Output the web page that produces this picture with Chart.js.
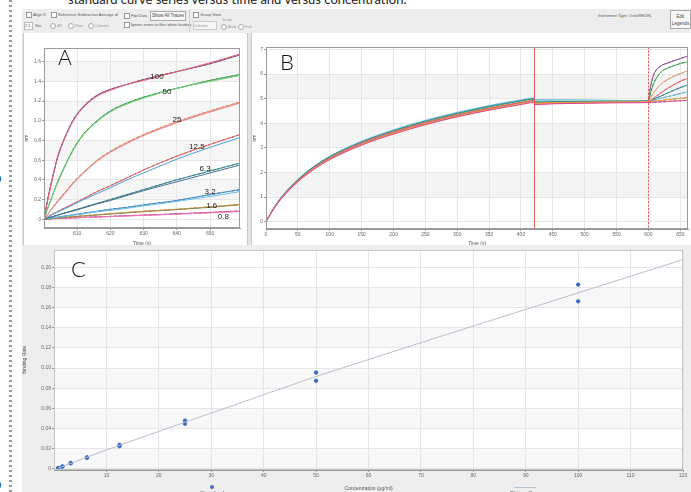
<!DOCTYPE html>
<html>
<head>
<meta charset="utf-8">
<script src="https://cdn.jsdelivr.net/npm/chart.js@4.4.0/dist/chart.umd.min.js"></script>
<style>
  body { margin:0; width:691px; height:492px; overflow:hidden; background:#fff; position:relative;
         font-family:'Liberation Sans', Arial, sans-serif; }
  .abs { position:absolute; }
  .tb { position:absolute; font-size:5px; color:#555; white-space:nowrap; line-height:6px; }
  .sm { font-size:4px; }
  .cb { position:absolute; width:4px; height:4px; border:1px solid #999; background:#fff; }
  .rd { position:absolute; width:4px; height:4px; border:1px solid #aaa; border-radius:50%; background:#fff; }
  .btn { position:absolute; border:1px solid #aaa; background:#f7f7f7; font-size:4.5px; color:#444;
         text-align:center; line-height:8px; white-space:nowrap; overflow:hidden; }
  .panel { position:absolute; background:#fff; border:1px solid #c8c8c8; box-sizing:border-box; }
  .ptitle { position:absolute; font-size:7px; color:#333; white-space:nowrap; }
  .big { position:absolute; font-family:'Lato','Open Sans',sans-serif; font-weight:300; color:#111; }
  canvas { position:absolute; }
</style>
</head>
<body>
<!-- caption cut off at the top -->
<div class="abs" style="left:68px;top:-9px;font-family:'Lato','Open Sans',sans-serif;font-size:13px;color:#222;white-space:nowrap;">standard curve series versus time and versus concentration.</div>
<div class="abs" style="left:9px;top:0;width:3px;height:492px;background:repeating-linear-gradient(#999 0 2px, transparent 2px 5px);"></div>
<div class="abs" style="left:-5px;top:173px;font-size:11px;font-weight:bold;color:#111;">0</div>
<div class="abs" style="left:-5px;top:479px;font-size:11px;font-weight:bold;color:#111;">0</div>

<!-- software toolbar -->
<div class="abs" style="left:22px;top:9px;width:669px;height:24px;background:#ededed;"></div>
<div class="cb" style="left:26px;top:12px;"></div><div class="tb sm" style="left:33px;top:12px;">Align X</div>
<div class="cb" style="left:51px;top:12px;"></div><div class="tb sm" style="left:58px;top:12px;">Reference Subtraction Average of</div>
<div class="cb" style="left:124px;top:13px;"></div><div class="tb sm" style="left:131px;top:13px;">Flip Data</div>
<div class="btn" style="left:150px;top:11px;width:34px;height:8px;">Show All Traces</div>
<div class="abs" style="left:24px;top:22px;width:7px;height:6px;background:#fff;border:1px solid #bbb;font-size:4px;color:#555;line-height:6px;">2.5</div>
<div class="tb sm" style="left:35px;top:23px;">Sec</div>
<div class="rd" style="left:50px;top:23px;"></div><div class="tb sm" style="left:57px;top:23px;color:#999;">All</div>
<div class="rd" style="left:68px;top:23px;"></div><div class="tb sm" style="left:75px;top:23px;color:#999;">Row</div>
<div class="rd" style="left:88px;top:23px;"></div><div class="tb sm" style="left:95px;top:23px;color:#999;">Column</div>
<div class="cb" style="left:124px;top:22px;"></div><div class="tb sm" style="left:131px;top:22px;">Ignore errors in files when loading</div>
<div class="abs" style="left:189px;top:10px;width:1px;height:22px;background:#d0d0d0;"></div>
<div class="cb" style="left:193px;top:12px;"></div><div class="tb sm" style="left:200px;top:12px;">Group View</div>
<div class="abs" style="left:193px;top:21px;width:22px;height:7px;background:#f5f5f5;border:1px solid #ccc;font-size:4px;color:#999;line-height:7px;">Column</div>
<div class="tb sm" style="left:222px;top:17px;color:#999;">Scale</div>
<div class="rd" style="left:221px;top:24px;"></div><div class="tb sm" style="left:228px;top:24px;color:#999;">Auto</div>
<div class="rd" style="left:238px;top:24px;"></div><div class="tb sm" style="left:245px;top:24px;color:#999;">Full</div>
<div class="tb sm" style="left:598px;top:13px;">Instrument Type: OctetRED96</div>
<div class="btn" style="left:670px;top:10px;width:21px;height:19px;line-height:7px;padding-top:2px;box-sizing:border-box;white-space:normal;">Edit<br>Legends</div>

<!-- panel frames -->
<div class="abs" style="left:22px;top:33px;width:669px;height:216px;background:#e4e4e4;"></div>
<div class="panel" style="left:23px;top:33px;width:225px;height:215px;"></div>
<div class="panel" style="left:251px;top:33px;width:440px;height:215px;"></div>
<div class="ptitle" style="left:89px;top:36px;">Binding Curve Graph</div>
<div class="tb sm" style="left:207px;top:37px;">602.166, 1.745</div>
<div class="ptitle" style="left:440px;top:36px;">Binding Curve Graph</div>
<div class="tb sm" style="left:666px;top:36px;">10.666, 6.21</div>

<canvas id="chartA" width="222" height="214" style="left:24px;top:33px;"></canvas>
<canvas id="chartB" width="439" height="214" style="left:252px;top:33px;"></canvas>
<canvas id="chartC" width="669" height="247" style="left:22px;top:245px;"></canvas>

<div class="big" style="left:58px;top:44px;font-size:21px;">A</div>
<div class="big" style="left:280px;top:48px;font-size:22px;">B</div>
<div class="big" style="left:71px;top:255px;font-size:22px;">C</div>

<!-- legend of panel C, cut off by the bottom edge -->
<div class="abs" style="left:210px;top:485px;width:4px;height:4px;border-radius:50%;background:#3a6cc4;"></div>
<div class="tb" style="left:200px;top:490px;font-size:6px;">Standard</div>
<div class="abs" style="left:514px;top:487px;width:22px;height:1px;background:#b8c4d4;"></div>
<div class="tb" style="left:510px;top:490px;font-size:6px;">Fitting Curve</div>

<script>
  'use strict';

  // ══════════════════════════════════════════
  // DATA — panel A (association, RU vs time)
  // ══════════════════════════════════════════
  const A_TIME = [600, 601, 602, 604, 606, 609, 612, 616, 620, 625, 630, 640, 650, 659];
  const A_100a = [0, 0.18, 0.34, 0.62, 0.81, 1.02, 1.15, 1.26, 1.32, 1.37, 1.42, 1.50, 1.58, 1.67];
  const A_100b = [0, 0.17, 0.33, 0.61, 0.80, 1.01, 1.14, 1.25, 1.31, 1.37, 1.41, 1.50, 1.59, 1.68];
  const A_50a  = [0, 0.10, 0.19, 0.37, 0.52, 0.72, 0.87, 1.00, 1.10, 1.18, 1.24, 1.33, 1.41, 1.47];
  const A_50b  = [0, 0.10, 0.19, 0.36, 0.51, 0.71, 0.86, 0.99, 1.09, 1.17, 1.23, 1.33, 1.40, 1.46];
  const A_25a  = [0, 0.04, 0.09, 0.18, 0.26, 0.38, 0.48, 0.60, 0.69, 0.78, 0.86, 0.99, 1.10, 1.19];
  const A_25b  = [0, 0.04, 0.09, 0.17, 0.25, 0.37, 0.47, 0.59, 0.68, 0.77, 0.85, 0.98, 1.09, 1.18];
  const A_12a  = [0, 0.02, 0.04, 0.075, 0.11, 0.16, 0.21, 0.28, 0.34, 0.42, 0.50, 0.64, 0.76, 0.86];
  const A_12b  = [0, 0.02, 0.04, 0.07, 0.10, 0.15, 0.20, 0.26, 0.32, 0.40, 0.47, 0.61, 0.73, 0.83];
  const A_6a   = [0, 0.01, 0.02, 0.04, 0.06, 0.09, 0.12, 0.16, 0.20, 0.25, 0.30, 0.40, 0.49, 0.57];
  const A_6b   = [0, 0.01, 0.02, 0.04, 0.06, 0.085, 0.115, 0.155, 0.19, 0.24, 0.29, 0.38, 0.47, 0.55];
  const A_3a   = [0, 0.005, 0.01, 0.02, 0.03, 0.045, 0.06, 0.08, 0.10, 0.12, 0.145, 0.19, 0.25, 0.30];
  const A_3b   = [0, 0.005, 0.01, 0.02, 0.03, 0.04, 0.055, 0.075, 0.09, 0.11, 0.135, 0.18, 0.23, 0.28];
  const A_1a   = [0, 0.003, 0.006, 0.012, 0.018, 0.026, 0.034, 0.044, 0.055, 0.068, 0.08, 0.10, 0.125, 0.15];
  const A_1b   = [0, 0.003, 0.006, 0.011, 0.017, 0.025, 0.032, 0.042, 0.052, 0.064, 0.076, 0.097, 0.12, 0.145];
  const A_08a  = [0, 0.002, 0.004, 0.007, 0.01, 0.014, 0.018, 0.023, 0.028, 0.035, 0.041, 0.054, 0.068, 0.083];
  const A_08b  = [0, 0.002, 0.003, 0.006, 0.009, 0.013, 0.016, 0.021, 0.026, 0.032, 0.038, 0.05, 0.064, 0.078];

  const A_LABELS     = ['100', '50', '25', '12.5', '6.3', '3.2', '1.6', '0.8'];
  const A_LABEL_TIME = [634, 637, 640, 646, 648.5, 650, 650.5, 654];
  const A_LABEL_RU   = [1.45, 1.29, 1.01, 0.74, 0.51, 0.28, 0.14, 0.025];
  const A_X_TICKS = [610, 620, 630, 640, 650];
  const A_Y_TICKS = [0, 0.2, 0.4, 0.6, 0.8, 1.0, 1.2, 1.4, 1.6];

  // ══════════════════════════════════════════
  // DATA — panel B (whole run)
  // ══════════════════════════════════════════
  const B_TIME = [0, 10, 25, 50, 75, 100, 150, 200, 250, 300, 350, 400, 420,
                  422, 450, 500, 550, 600,
                  602, 605, 610, 620, 630, 640, 650, 660];
  const B_100 = [0, 0.44, 0.98, 1.65, 2.17, 2.57, 3.16, 3.62, 4.00, 4.32, 4.59, 4.83, 4.90, 4.84, 4.86, 4.88, 4.90, 4.92, 5.29, 5.70, 6.07, 6.34, 6.45, 6.54, 6.63, 6.72];
  const B_50  = [0, 0.46, 1.01, 1.69, 2.21, 2.62, 3.22, 3.68, 4.06, 4.38, 4.66, 4.90, 4.97, 4.86, 4.88, 4.89, 4.90, 4.90, 5.11, 5.39, 5.72, 6.09, 6.24, 6.34, 6.43, 6.49];
  const B_25  = [0, 0.43, 0.97, 1.63, 2.14, 2.54, 3.13, 3.58, 3.96, 4.28, 4.55, 4.78, 4.86, 4.80, 4.83, 4.85, 4.87, 4.88, 4.97, 5.11, 5.31, 5.60, 5.78, 5.91, 6.02, 6.12];
  const B_12  = [0, 0.45, 1.00, 1.67, 2.19, 2.60, 3.20, 3.65, 4.03, 4.35, 4.62, 4.85, 4.93, 4.78, 4.81, 4.83, 4.85, 4.86, 4.90, 4.96, 5.06, 5.24, 5.42, 5.57, 5.71, 5.81];
  const B_6   = [0, 0.46, 1.02, 1.70, 2.23, 2.64, 3.24, 3.70, 4.09, 4.41, 4.69, 4.92, 5.00, 4.90, 4.90, 4.89, 4.88, 4.88, 4.90, 4.94, 5.00, 5.11, 5.23, 5.34, 5.45, 5.54];
  const B_3   = [0, 0.47, 1.03, 1.72, 2.25, 2.66, 3.27, 3.73, 4.12, 4.44, 4.72, 4.95, 5.02, 4.96, 4.96, 4.95, 4.93, 4.90, 4.91, 4.93, 4.96, 5.02, 5.08, 5.14, 5.21, 5.27];
  const B_1   = [0, 0.44, 0.98, 1.64, 2.15, 2.55, 3.14, 3.60, 3.98, 4.30, 4.57, 4.80, 4.88, 4.82, 4.84, 4.85, 4.86, 4.87, 4.877, 4.887, 4.90, 4.93, 4.96, 4.98, 5.01, 5.04];
  const B_08  = [0, 0.43, 0.96, 1.62, 2.12, 2.52, 3.11, 3.56, 3.94, 4.26, 4.53, 4.76, 4.84, 4.76, 4.79, 4.81, 4.83, 4.84, 4.844, 4.849, 4.856, 4.87, 4.885, 4.90, 4.915, 4.93];
  const B_STEP_TIMES = [420, 600, 660];   // loading end, association start, run end
  const B_X_TICKS = [0, 50, 100, 150, 200, 250, 300, 350, 400, 450, 500, 550, 600, 650];
  const B_Y_TICKS = [0, 1, 2, 3, 4, 5, 6, 7];

  // ══════════════════════════════════════════
  // DATA — panel C (standard curve)
  // ══════════════════════════════════════════
  const C_CONC = [0.8, 0.8, 1.6, 1.6, 3.2, 3.2, 6.3, 6.3, 12.5, 12.5, 25, 25, 50, 50, 100, 100];
  const C_RATE = [0.0010, 0.0008, 0.0026, 0.0023, 0.0060, 0.0056, 0.0116, 0.0110, 0.0240, 0.0225,
                  0.0480, 0.0448, 0.0956, 0.0874, 0.1827, 0.1661];
  const FIT_CONC = [0.8, 10, 25, 50, 75, 100, 120];
  const FIT_RATE = [0.0008, 0.0190, 0.0464, 0.0917, 0.1335, 0.1745, 0.2075];
  const C_X_TICKS = [10, 20, 30, 40, 50, 60, 70, 80, 90, 100, 110, 120];
  const C_Y_TICKS = [0, 0.02, 0.04, 0.06, 0.08, 0.10, 0.12, 0.14, 0.16, 0.18, 0.20];

  // ══════════════════════════════════════════
  // HELPERS
  // ══════════════════════════════════════════
  const TICK_FONT = { family: "'Liberation Sans', Arial, sans-serif", size: 5 };
  const pts = (xs, ys) => xs.map((x, i) => ({ x, y: ys[i] }));
  const fixTicks = (list) => (scale) => { scale.ticks = list.map(v => ({ value: v })); };

  function line(data, color, extra) {
    return Object.assign({
      data, borderColor: color, borderWidth: 1, pointRadius: 0,
      showLine: true, fill: false, cubicInterpolationMode: 'monotone'
    }, extra || {});
  }

  // white plot area with alternating grey bands + frame
  const plotFrame = {
    id: 'plotFrame',
    beforeDraw(chart, args, opts) {
      const { ctx, chartArea: a } = chart;
      const y = chart.scales.y;
      ctx.save();
      ctx.fillStyle = opts.outer;
      ctx.fillRect(0, 0, chart.width, chart.height);
      ctx.fillStyle = '#fff';
      ctx.fillRect(a.left, a.top, a.width, a.height);
      ctx.fillStyle = opts.band;
      const tv = y.ticks.map(t => t.value);
      for (let i = opts.bandStart; i < tv.length - 1; i += 2) {
        const y1 = y.getPixelForValue(tv[i]), y2 = y.getPixelForValue(tv[i + 1]);
        ctx.fillRect(a.left, y2, a.width, y1 - y2);
      }
      ctx.restore();
    },
    afterDraw(chart, args, opts) {
      const { ctx, chartArea: a } = chart;
      ctx.save();
      ctx.strokeStyle = opts.frame;
      ctx.lineWidth = 1;
      ctx.strokeRect(a.left + 0.5, a.top + 0.5, a.width - 1, a.height - 1);
      ctx.restore();
    }
  };

  function baseScales(o) {
    return {
      x: {
        type: 'linear', min: o.xmin, max: o.xmax,
        afterBuildTicks: fixTicks(o.xticks),
        afterFit: s => { s.height = o.xh; },
        grid: { color: '#e6e6e6', tickLength: 2, tickColor: '#999' },
        border: { color: '#999' },
        ticks: { font: TICK_FONT, color: '#666', padding: 1, maxRotation: 0, callback: o.xfmt || (v => v) },
        title: { display: true, text: o.xtitle, font: TICK_FONT, color: '#555', padding: 0 }
      },
      y: {
        type: 'linear', min: o.ymin, max: o.ymax,
        afterBuildTicks: fixTicks(o.yticks),
        afterFit: s => { s.width = o.yw; },
        grid: { color: '#e6e6e6', tickLength: 2, tickColor: '#999' },
        border: { color: '#999' },
        ticks: { font: TICK_FONT, color: '#666', padding: 1, callback: o.yfmt || (v => v) },
        title: { display: true, text: o.ytitle, font: TICK_FONT, color: '#555', padding: 0 }
      }
    };
  }

  const common = {
    responsive: false, animation: false, devicePixelRatio: 1,
    plugins: { legend: { display: false }, tooltip: { enabled: false } }
  };

  // ══════════════════════════════════════════
  // PANEL A
  // ══════════════════════════════════════════
  const A_SETS = [
    [A_100a, A_100b, '#8a4c9a', '#e46464'],
    [A_50a,  A_50b,  '#2fae4a', '#7fd07a'],
    [A_25a,  A_25b,  '#f2a072', '#ee7f8a'],
    [A_12a,  A_12b,  '#ef5f5f', '#4aa2d6'],
    [A_6a,   A_6b,   '#2f8f9c', '#4c6f8c'],
    [A_3a,   A_3b,   '#3f8fd6', '#6cc0e6'],
    [A_1a,   A_1b,   '#e0a030', '#9a8a50'],
    [A_08a,  A_08b,  '#e0409a', '#f27ab8']
  ];
  const aData = [];
  A_SETS.forEach(([ra, rb, ca, cb]) => {
    aData.push(line(pts(A_TIME, rb), cb));
    aData.push(line(pts(A_TIME, ra), ca));
    aData.push(line(pts(A_TIME, ra), 'rgba(40,40,40,0.75)', { borderDash: [3, 2] }));
  });

  const curveLabels = {
    id: 'curveLabels',
    afterDatasetsDraw(chart) {
      const { ctx, scales: { x, y } } = chart;
      ctx.save();
      ctx.font = "8px 'Liberation Sans', Arial, sans-serif";
      ctx.fillStyle = '#222';
      ctx.textAlign = 'center';
      ctx.textBaseline = 'middle';
      A_LABELS.forEach((t, i) => ctx.fillText(t, x.getPixelForValue(A_LABEL_TIME[i]), y.getPixelForValue(A_LABEL_RU[i])));
      ctx.restore();
    }
  };

  new Chart(document.getElementById('chartA'), {
    type: 'scatter',
    data: { datasets: aData },
    options: Object.assign({}, common, {
      layout: { padding: { top: 15, right: 6, left: 0, bottom: 0 } },
      scales: baseScales({ xmin: 600, xmax: 659, xticks: A_X_TICKS, xh: 19, xtitle: 'Time (s)',
                           ymin: -0.09, ymax: 1.74, yticks: A_Y_TICKS, yw: 20, ytitle: 'nm',
                           yfmt: v => v === 0 ? '0' : v.toFixed(1) }),
      plugins: Object.assign({}, common.plugins, {
        plotFrame: { outer: '#fff', band: '#f6f6f6', bandStart: 1, frame: '#9a9a9a' }
      })
    }),
    plugins: [plotFrame, curveLabels]
  });

  // ══════════════════════════════════════════
  // PANEL B
  // ══════════════════════════════════════════
  const B_SETS = [
    [B_08, '#e0409a'], [B_1, '#e0a030'], [B_25, '#f2a072'], [B_12, '#ef5f5f'],
    [B_6, '#2f8f9c'], [B_50, '#2fae4a'], [B_3, '#6cc0e6'], [B_100, '#8a4c9a']
  ];
  const bData = [];
  B_SETS.forEach(([vals, c]) => bData.push(line(pts(B_TIME, vals), c)));
  // dashed fits over the association step
  B_SETS.forEach(([vals]) => bData.push(line(pts(B_TIME.slice(17), vals.slice(17)), 'rgba(40,40,40,0.6)', { borderDash: [3, 2] })));

  const stepLines = {
    id: 'stepLines',
    afterDatasetsDraw(chart) {
      const { ctx, chartArea: a, scales: { x } } = chart;
      ctx.save();
      ctx.strokeStyle = '#e85a5a';
      ctx.lineWidth = 1;
      B_STEP_TIMES.forEach((t, i) => {
        const px = Math.round(x.getPixelForValue(t)) + 0.5;
        ctx.setLineDash(i === 0 ? [] : [2, 1.5]);
        ctx.beginPath(); ctx.moveTo(px, a.top); ctx.lineTo(px, a.bottom); ctx.stroke();
      });
      ctx.restore();
    }
  };

  new Chart(document.getElementById('chartB'), {
    type: 'scatter',
    data: { datasets: bData },
    options: Object.assign({}, common, {
      layout: { padding: { top: 14, right: 3, left: 0, bottom: 0 } },
      scales: baseScales({ xmin: 0, xmax: 662, xticks: B_X_TICKS, xh: 18, xtitle: 'Time (s)',
                           ymin: -0.3, ymax: 7.1, yticks: B_Y_TICKS, yw: 14, ytitle: 'nm' }),
      plugins: Object.assign({}, common.plugins, {
        plotFrame: { outer: '#fff', band: '#f4f4f4', bandStart: 1, frame: '#9a9a9a' }
      })
    }),
    plugins: [plotFrame, stepLines]
  });

  // ══════════════════════════════════════════
  // PANEL C
  // ══════════════════════════════════════════
  new Chart(document.getElementById('chartC'), {
    type: 'scatter',
    data: {
      datasets: [
        line(pts(FIT_CONC, FIT_RATE), '#b4c0d2', { cubicInterpolationMode: 'default', tension: 0 }),
        { data: pts(C_CONC, C_RATE), pointRadius: 1.7, pointBackgroundColor: '#3a6cc4',
          pointBorderColor: '#3a6cc4', showLine: false }
      ]
    },
    options: Object.assign({}, common, {
      layout: { padding: { top: 3, right: 8, left: 0, bottom: 0 } },
      scales: baseScales({ xmin: 0, xmax: 120, xticks: C_X_TICKS, xh: 22, xtitle: 'Concentration (µg/ml)',
                           ymin: -0.001, ymax: 0.217, yticks: C_Y_TICKS, yw: 32, ytitle: 'Binding Rate',
                           yfmt: v => v === 0 ? '0' : v.toFixed(2) }),
      plugins: Object.assign({}, common.plugins, {
        plotFrame: { outer: '#eeeeee', band: '#f8f8f8', bandStart: 0, frame: '#c4c4c4' }
      })
    }),
    plugins: [plotFrame]
  });
</script>
</body>
</html>
